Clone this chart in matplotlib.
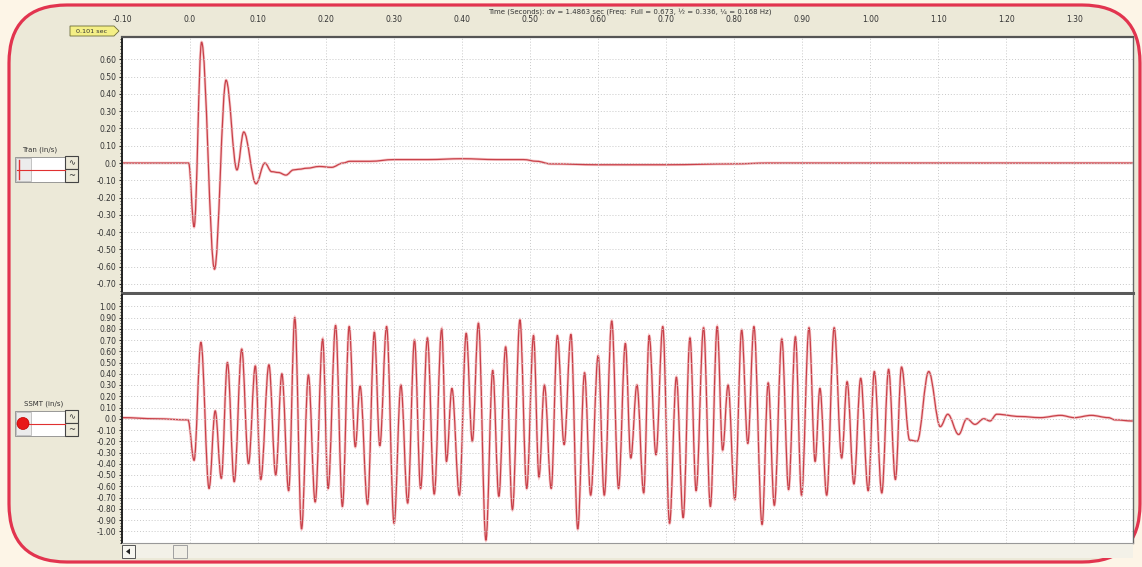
import matplotlib
matplotlib.use('Agg')
import matplotlib.pyplot as plt
from matplotlib.patches import FancyBboxPatch, Rectangle, Circle, Polygon, PathPatch
from matplotlib.path import Path
from matplotlib.ticker import MultipleLocator

# ---------------- data ----------------
tran_t = [-0.100, -0.002, 0.006, 0.017, 0.036, 0.053, 0.069, 0.079, 0.097, 0.110,
          0.120, 0.130, 0.141, 0.152, 0.160, 0.172, 0.190, 0.208, 0.225, 0.235,
          0.265, 0.300, 0.350, 0.400, 0.450, 0.490, 0.510, 0.530, 0.600, 0.700,
          0.800, 0.850, 1.386]
tran_v = [0.00, 0.00, -0.37, 0.70, -0.615, 0.48, -0.04, 0.18, -0.12, 0.00,
          -0.05, -0.055, -0.07, -0.04, -0.036, -0.03, -0.02, -0.025, 0.00, 0.01,
          0.01, 0.02, 0.02, 0.025, 0.02, 0.02, 0.01, -0.005, -0.01, -0.01,
          -0.005, 0.00, 0.00]

ssmt_t = [-0.100, -0.050, -0.003,
          0.006, 0.016, 0.028, 0.037, 0.046, 0.055, 0.065, 0.076, 0.086, 0.096,
          0.104, 0.116, 0.126, 0.135, 0.145, 0.154, 0.164, 0.174, 0.184, 0.195,
          0.203, 0.214, 0.224, 0.234, 0.243, 0.250, 0.261, 0.271, 0.279, 0.289,
          0.300, 0.310, 0.320, 0.330, 0.339, 0.349, 0.359, 0.370, 0.377, 0.385,
          0.396, 0.406, 0.415, 0.424, 0.435, 0.445, 0.454, 0.464, 0.474, 0.485,
          0.495, 0.505, 0.513, 0.521, 0.531, 0.540, 0.550, 0.560, 0.570, 0.580,
          0.589, 0.600, 0.609, 0.620, 0.630, 0.640, 0.648, 0.657, 0.667, 0.675,
          0.685, 0.695, 0.705, 0.715, 0.725, 0.735, 0.744, 0.755, 0.765, 0.775,
          0.783, 0.791, 0.801, 0.811, 0.820, 0.829, 0.841, 0.850, 0.859, 0.870,
          0.880, 0.890, 0.899, 0.910, 0.919, 0.926, 0.936, 0.947, 0.958, 0.966,
          0.976, 0.986, 0.997, 1.006, 1.017, 1.027, 1.037, 1.046, 1.058, 1.069,
          1.086, 1.103, 1.114, 1.130, 1.142, 1.154, 1.167, 1.176, 1.186, 1.220,
          1.250, 1.280, 1.300, 1.325, 1.350, 1.360, 1.386]
ssmt_v = [0.01, 0.00, -0.01,
          -0.37, 0.68, -0.62, 0.07, -0.53, 0.50, -0.56, 0.62, -0.40, 0.47,
          -0.54, 0.48, -0.50, 0.40, -0.64, 0.90, -0.98, 0.39, -0.74, 0.71,
          -0.62, 0.83, -0.78, 0.82, -0.25, 0.29, -0.76, 0.77, -0.24, 0.82,
          -0.93, 0.30, -0.75, 0.70, -0.62, 0.72, -0.67, 0.80, -0.38, 0.27,
          -0.68, 0.76, -0.20, 0.85, -1.08, 0.43, -0.69, 0.64, -0.81, 0.88,
          -0.62, 0.74, -0.52, 0.30, -0.62, 0.74, -0.23, 0.75, -0.98, 0.41,
          -0.68, 0.56, -0.68, 0.87, -0.62, 0.67, -0.35, 0.30, -0.66, 0.74,
          -0.32, 0.82, -0.93, 0.37, -0.88, 0.72, -0.64, 0.81, -0.78, 0.82,
          -0.28, 0.30, -0.72, 0.79, -0.22, 0.82, -0.94, 0.32, -0.77, 0.71,
          -0.63, 0.73, -0.68, 0.81, -0.38, 0.27, -0.68, 0.81, -0.35, 0.33,
          -0.58, 0.36, -0.64, 0.42, -0.66, 0.44, -0.54, 0.46, -0.19, -0.20,
          0.42, -0.07, 0.04, -0.14, 0.00, -0.05, 0.00, -0.02, 0.04, 0.02,
          0.01, 0.03, 0.01, 0.03, 0.01, -0.01, -0.02]

x_tick_vals = [-0.10, 0.0, 0.10, 0.20, 0.30, 0.40, 0.50, 0.60, 0.70, 0.80,
               0.90, 1.00, 1.10, 1.20, 1.30]
x_tick_labels = ['-0.10', '0.0', '0.10', '0.20', '0.30', '0.40', '0.50', '0.60',
                 '0.70', '0.80', '0.90', '1.00', '1.10', '1.20', '1.30']
tran_tick_vals = [0.6, 0.5, 0.4, 0.3, 0.2, 0.1, 0.0, -0.1, -0.2, -0.3, -0.4,
                  -0.5, -0.6, -0.7]
tran_tick_labels = ['0.60', '0.50', '0.40', '0.30', '0.20', '0.10', '0.0',
                    '-0.10', '-0.20', '-0.30', '-0.40', '-0.50', '-0.60', '-0.70']
ssmt_tick_vals = [1.0, 0.9, 0.8, 0.7, 0.6, 0.5, 0.4, 0.3, 0.2, 0.1, 0.0, -0.1,
                  -0.2, -0.3, -0.4, -0.5, -0.6, -0.7, -0.8, -0.9, -1.0]
ssmt_tick_labels = ['1.00', '0.90', '0.80', '0.70', '0.60', '0.50', '0.40',
                    '0.30', '0.20', '0.10', '0.0', '-0.10', '-0.20', '-0.30',
                    '-0.40', '-0.50', '-0.60', '-0.70', '-0.80', '-0.90', '-1.00']

title_text = 'Time (Seconds): dv = 1.4863 sec (Freq:  Full = 0.673, \u00bd = 0.336, \u00bc = 0.168 Hz)'
cursor_text = '0.101 sec'
tran_name = 'Tran (in/s)'
ssmt_name = 'SSMT (in/s)'

# ---------------- figure ----------------
W, H = 1142, 567
fig = plt.figure(figsize=(W / 100, H / 100), dpi=100)
fig.patch.set_facecolor('#fdf5e7')

bg = fig.add_axes([0, 0, 1, 1])
bg.set_xlim(0, W)
bg.set_ylim(H, 0)
bg.axis('off')

RED = '#e2344f'
BEIGE = '#ece9d8'
bg.add_patch(FancyBboxPatch((9, 5), 1131, 557, boxstyle='round,pad=0,rounding_size=58',
                            fc=BEIGE, ec=RED, lw=2.3, zorder=1))

LINE = '#c8414a'


def frac(x0, y0, x1, y1):
    return [x0 / W, 1 - y1 / H, (x1 - x0) / W, (y1 - y0) / H]


def smooth_trace(ax, ts, vs):
    """Draw the trace as a smooth curve (horizontal tangents at each read-off extremum)."""
    verts = [(ts[0], vs[0])]
    codes = [Path.MOVETO]
    for i in range(len(ts) - 1):
        dt = ts[i + 1] - ts[i]
        verts += [(ts[i] + 0.36 * dt, vs[i]), (ts[i + 1] - 0.36 * dt, vs[i + 1]),
                  (ts[i + 1], vs[i + 1])]
        codes += [Path.CURVE4] * 3
    path = Path(verts, codes)
    ax.add_patch(PathPatch(path, fc='none', ec='#f2a5a8', lw=2.0, alpha=0.6,
                           transform=ax.transData))
    ax.add_patch(PathPatch(path, fc='none', ec=LINE, lw=0.9, transform=ax.transData))


ax1 = fig.add_axes(frac(122, 37, 1133, 292.5))
ax2 = fig.add_axes(frac(122, 295, 1133, 542.5))

for ax in (ax1, ax2):
    ax.set_facecolor('white')
    ax.set_xlim(-0.10, 1.3863)
    ax.set_xticks(x_tick_vals)
    ax.grid(True, color='#c9c9c9', linestyle=(0, (1, 2)), lw=0.7)
    ax.spines['left'].set_color('#222222')
    ax.spines['left'].set_linewidth(1.4)
    ax.spines['right'].set_color('#666666')
    ax.spines['right'].set_linestyle((0, (1, 1)))
    ax.spines['right'].set_linewidth(1.0)
    ax.tick_params(axis='y', which='major', length=2.5, width=0.8, direction='out',
                   pad=1.5, labelsize=5.5, labelcolor='#333333', color='#222222')
    ax.tick_params(axis='y', which='minor', length=1.8, width=0.7, direction='out',
                   color='#222222')

# top panel
smooth_trace(ax1, tran_t, tran_v)
ax1.set_ylim(-0.75, 0.73)
ax1.set_yticks(tran_tick_vals)
ax1.set_yticklabels(tran_tick_labels)
ax1.yaxis.set_minor_locator(MultipleLocator(0.02))
ax1.xaxis.tick_top()
ax1.set_xticklabels(x_tick_labels)
ax1.tick_params(axis='x', length=0, pad=9, labelsize=5.5, labelcolor='#333333')
ax1.spines['top'].set_color('#555555')
ax1.spines['top'].set_linewidth(1.6)
ax1.spines['bottom'].set_color('#5a5a5a')
ax1.spines['bottom'].set_linewidth(2.2)

# bottom panel
smooth_trace(ax2, ssmt_t, ssmt_v)
ax2.set_ylim(-1.1, 1.1)
ax2.set_yticks(ssmt_tick_vals)
ax2.set_yticklabels(ssmt_tick_labels)
ax2.yaxis.set_minor_locator(MultipleLocator(0.025))
ax2.tick_params(axis='x', length=0, labelbottom=False)
ax2.spines['top'].set_visible(False)
ax2.spines['bottom'].set_color('#999999')
ax2.spines['bottom'].set_linewidth(0.8)

# header text
bg.text(630, 12, title_text, ha='center', va='center', fontsize=5.0, color='#333333', zorder=3)

# cursor label
bg.add_patch(Polygon([(70, 26), (114, 26), (119, 31), (114, 36), (70, 36)], closed=True,
                     fc='#f4ef86', ec='#6b6b3a', lw=0.6, zorder=3))
bg.text(92, 31.2, cursor_text, ha='center', va='center', fontsize=4.6, color='#333333', zorder=4)


def widget(label, lx, ly, by, dot):
    bg.text(lx, ly, label, ha='center', va='center', fontsize=5.0, color='#333333', zorder=3)
    bg.add_patch(Rectangle((15, by), 50, 25, fc='white', ec='#8a8a8a', lw=0.6, zorder=3))
    bg.add_patch(Rectangle((16, by + 1), 15, 23, fc='#ececec', ec='#b0b0b0', lw=0.5, zorder=3))
    my = by + 12.5
    bg.plot([17, 65], [my, my], color='#e03030', lw=0.8, zorder=4)
    if dot:
        bg.add_patch(Circle((23, my), 6, fc='#e81818', ec='#c00000', lw=0.5, zorder=5))
    else:
        bg.plot([19, 19], [by + 3, by + 22], color='#e03030', lw=1.0, zorder=4)
    for k, sym in enumerate(['\u223f', '~']):
        bg.add_patch(Rectangle((65, by - 1 + 13 * k), 13, 13, fc=BEIGE, ec='#444444',
                               lw=0.8, zorder=3))
        bg.text(71.5, by + 5.5 + 13 * k, sym, ha='center', va='center', fontsize=6,
                color='#333333', zorder=4)


widget(tran_name, 40, 150, 157, False)
widget(ssmt_name, 44, 404, 411, True)

# scrollbar
bg.add_patch(Rectangle((122, 543), 1011, 15, fc='#f3f1e8', ec='none', zorder=2))
bg.add_patch(Rectangle((122, 545), 13, 13, fc='#f7f6f0', ec='#555555', lw=0.7, zorder=3))
bg.add_patch(Polygon([(126, 551.5), (130, 548.5), (130, 554.5)], closed=True,
                     fc='#222222', ec='none', zorder=4))
bg.add_patch(Rectangle((173, 545), 14, 13, fc='#f1efe6', ec='#a0a0a0', lw=0.7, zorder=3))

fig.savefig('out.png', dpi=100, facecolor=fig.get_facecolor())
